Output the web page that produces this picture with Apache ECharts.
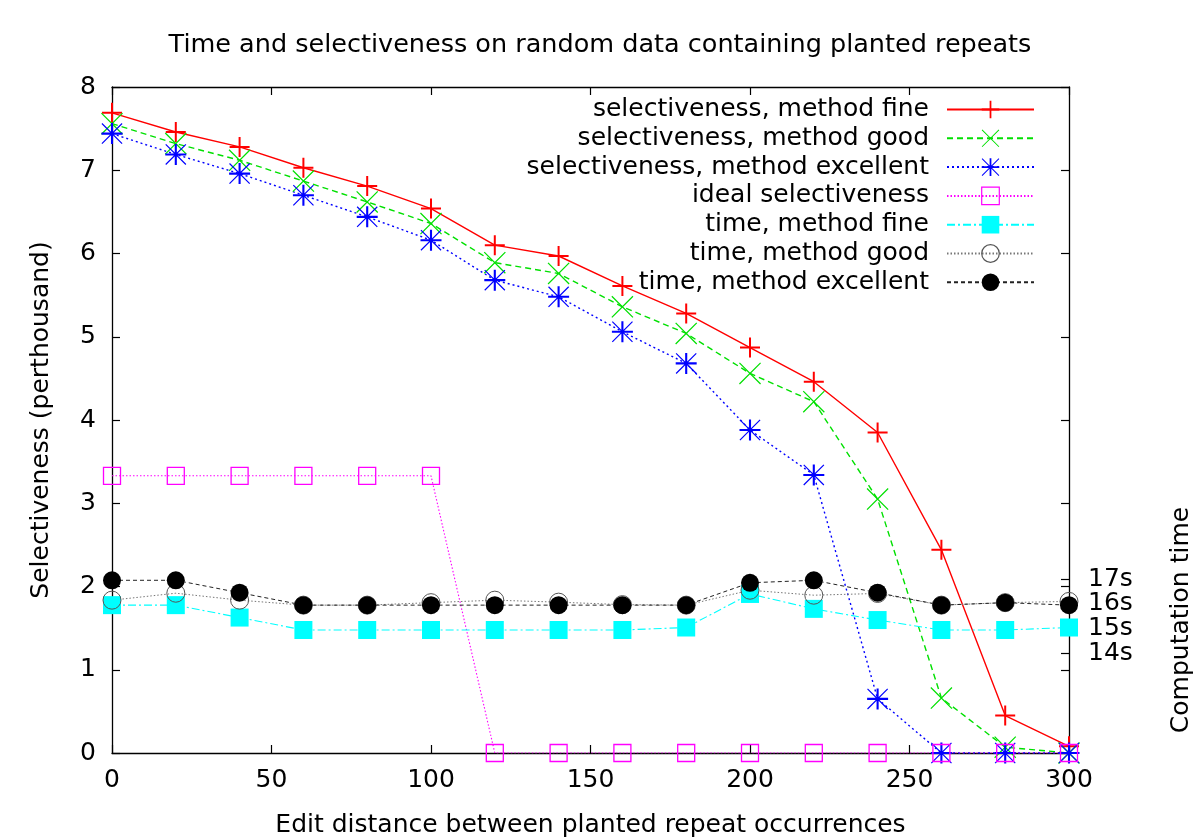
<!DOCTYPE html>
<html>
<head>
<meta charset="utf-8">
<script src="https://cdn.jsdelivr.net/npm/echarts@6/dist/echarts.min.js"></script>
<style>html,body{margin:0;padding:0;background:#fff;}#chart{width:1200px;height:840px;}</style>
</head>
<body>
<div id="chart"></div>
<script>
// ---- data ----
const editDistance = [0, 20, 40, 60, 80, 100, 120, 140, 160, 180, 200, 220, 240, 260, 280, 300];
const selFine      = [7.69, 7.46, 7.28, 7.03, 6.81, 6.54, 6.10, 5.97, 5.61, 5.28, 4.87, 4.46, 3.85, 2.44, 0.45, 0.08];
const selGood      = [7.56, 7.32, 7.12, 6.87, 6.62, 6.36, 5.89, 5.76, 5.36, 5.04, 4.56, 4.22, 3.05, 0.66, 0.07, 0.00];
const selExcellent = [7.44, 7.19, 6.96, 6.70, 6.44, 6.16, 5.68, 5.48, 5.06, 4.68, 3.88, 3.34, 0.65, 0.00, 0.00, 0.00];
const selIdeal     = [3.33, 3.33, 3.33, 3.33, 3.33, 3.33, 0, 0, 0, 0, 0, 0, 0, 0, 0, 0];
const timeFine      = [15.95, 15.95, 15.45, 14.95, 14.95, 14.95, 14.95, 14.95, 14.95, 15.05, 16.40, 15.80, 15.35, 14.95, 14.95, 15.05];
const timeGood      = [16.15, 16.43, 16.15, 15.95, 15.95, 16.05, 16.15, 16.07, 15.97, 15.95, 16.55, 16.35, 16.42, 15.95, 16.05, 16.10];
const timeExcellent = [16.95, 16.95, 16.45, 15.95, 15.95, 15.95, 15.95, 15.95, 15.95, 15.95, 16.85, 16.95, 16.45, 15.95, 16.05, 15.95];
const timeTickValues = [14, 15, 16, 17];
const seriesNames = [
  'selectiveness, method fine',
  'selectiveness, method good',
  'selectiveness, method excellent',
  'ideal selectiveness',
  'time, method fine',
  'time, method good',
  'time, method excellent'
];
const titleText = 'Time and selectiveness on random data containing planted repeats';
const xName = 'Edit distance between planted repeat occurrences';
const yName = 'Selectiveness (perthousand)';
const y2Name = 'Computation time';

// ---- styling ----
const FONT = 'DejaVu Sans';
const pair = arr => editDistance.map((x, i) => [x, arr[i]]);
const PLUS = 'path://M0,45H100V55H0Z M45,0H55V100H45Z';
const CROSS = 'path://M0,4L4,0L100,96L96,100Z M96,0L100,4L4,100L0,96Z';
const STAR = 'path://M0,45H100V55H0Z M45,0H55V100H45Z M0,4L4,0L100,96L96,100Z M96,0L100,4L4,100L0,96Z';

function mk(name, data, yIdx, symbol, size, itemStyle, lineStyle) {
  return {
    name, type: 'line', data: pair(data), xAxisIndex: 0, yAxisIndex: yIdx,
    symbol, symbolSize: size, showAllSymbol: true, symbolKeepAspect: true,
    itemStyle, lineStyle, emphasis: { disabled: true }, silent: true
  };
}

const chart = echarts.init(document.getElementById('chart'), null, { renderer: 'canvas' });
const axisCommon = {
  axisLine: { show: true, onZero: false, lineStyle: { color: '#000', width: 1.3 } },
  axisTick: { show: true, inside: true, length: 8, lineStyle: { color: '#000', width: 1.2 } },
  splitLine: { show: false }
};
const option = {
  animation: false,
  backgroundColor: '#fff',
  textStyle: { fontFamily: FONT },
  title: {
    text: titleText, left: 'center', top: 27,
    textStyle: { fontFamily: FONT, fontSize: 25.5, fontWeight: 'normal', color: '#000' }
  },
  grid: { left: 112, right: 131, top: 87, bottom: 87, containLabel: false, outerBoundsMode: 'none' },
  legend: {
    orient: 'vertical', align: 'right', right: 165, top: 97, padding: 0,
    itemWidth: 87, itemHeight: 22, itemGap: 3.8,
    data: seriesNames,
    selectedMode: false,
    textStyle: { fontFamily: FONT, fontSize: 25, color: '#000', lineHeight: 22, padding: [0, 13, 0, 0] },
    itemStyle: { borderWidth: 1.2 }
  },
  xAxis: [
    Object.assign({}, axisCommon, {
      type: 'value', min: 0, max: 300, interval: 50, position: 'bottom',
      axisLabel: { fontFamily: FONT, fontSize: 25, color: '#000', margin: 15 },
      name: xName, nameLocation: 'middle', nameGap: 60,
      nameTextStyle: { fontFamily: FONT, fontSize: 25, color: '#000' }
    }),
    Object.assign({}, axisCommon, {
      type: 'value', min: 0, max: 300, interval: 50, position: 'top',
      axisLabel: { show: false }
    })
  ],
  yAxis: [
    Object.assign({}, axisCommon, {
      type: 'value', min: 0, max: 8, interval: 1, position: 'left',
      axisLabel: { fontFamily: FONT, fontSize: 25, color: '#000', margin: 16 },
      name: yName, nameLocation: 'middle', nameGap: 58,
      nameTextStyle: { fontFamily: FONT, fontSize: 25, color: '#000' }
    }),
    Object.assign({}, axisCommon, {
      type: 'value', min: 0, max: 8, interval: 1, position: 'right',
      axisLabel: { show: false }
    }),
    {
      type: 'value', min: 10, max: 36.8, position: 'right',
      axisLine: { show: false, onZero: false },
      splitLine: { show: false },
      axisTick: { show: true, inside: true, length: 8, customValues: timeTickValues, lineStyle: { color: '#000', width: 1.2 } },
      axisLabel: { show: true, hideOverlap: false, showMinLabel: true, showMaxLabel: true, customValues: timeTickValues, formatter: v => v + 's', fontFamily: FONT, fontSize: 25, color: '#000', margin: 19 }
    }
  ],
  graphic: [{
    type: 'text', x: 1181, y: 620, rotation: Math.PI / 2,
    style: { text: y2Name, fontFamily: FONT, fontSize: 25, fill: '#000', align: 'center', verticalAlign: 'middle' }
  }],
  series: [
    mk(seriesNames[0], selFine, 0, PLUS, 20, { color: '#ff0000' }, { color: '#ff0000', width: 1.4, type: 'solid' }),
    mk(seriesNames[1], selGood, 0, CROSS, 22, { color: '#00e000' }, { color: '#00e000', width: 1.4, type: [6, 4] }),
    mk(seriesNames[2], selExcellent, 0, STAR, 21, { color: '#0000ff' }, { color: '#0000ff', width: 1.4, type: [2, 3] }),
    mk(seriesNames[3], selIdeal, 0, 'rect', 17, { color: 'rgba(0,0,0,0)', borderColor: '#ff00ff', borderWidth: 1.3 }, { color: '#ff00ff', width: 1.1, type: [1.5, 2] }),
    mk(seriesNames[4], timeFine, 2, 'rect', 18, { color: '#00ffff' }, { color: '#00ffff', width: 1.1, type: [8, 3, 2, 3] }),
    mk(seriesNames[5], timeGood, 2, 'circle', 18, { color: 'rgba(0,0,0,0)', borderColor: '#555', borderWidth: 1 }, { color: '#777', width: 1, type: [1.5, 2] }),
    mk(seriesNames[6], timeExcellent, 2, 'circle', 18, { color: '#000' }, { color: '#222', width: 1, type: [4, 3] })
  ]
};
chart.setOption(option);
</script>
</body>
</html>
